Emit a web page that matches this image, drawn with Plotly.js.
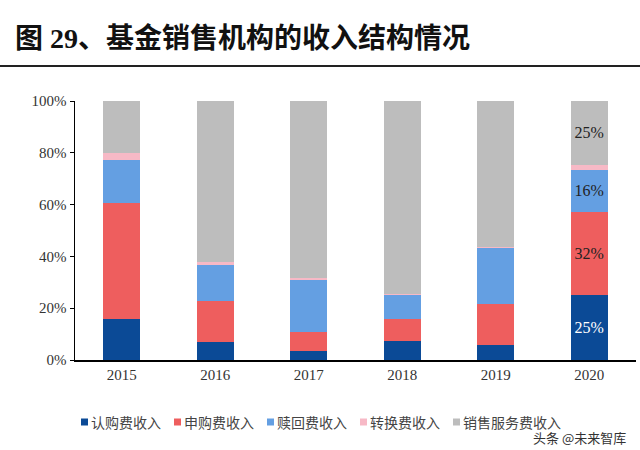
<!DOCTYPE html>
<html>
<head>
<meta charset="utf-8">
<script src="https://cdn.plot.ly/plotly-3.0.1.min.js"></script>
<style>html,body{margin:0;padding:0;background:#fff;}#chart{width:640px;height:450px;}</style>
</head>
<body>
<div id="chart"></div>
<script>
const years = ['2015', '2016', '2017', '2018', '2019', '2020'];
const seriesNames = ['认购费收入', '申购费收入', '赎回费收入', '转换费收入', '销售服务费收入'];
const subscription = [15.9, 6.8, 3.3, 7.2, 5.9, 25.2];
const purchase     = [44.9, 15.9, 7.4, 8.7, 15.8, 32.1];
const redemption   = [16.6, 13.9, 20.1, 9.1, 21.6, 16.2];
const conversion   = [2.6, 1.1, 0.8, 0.4, 0.5, 1.9];
const service      = [20.0, 62.3, 68.4, 74.6, 56.2, 24.6];
const seriesColors = ['#0B4A96', '#EE5E5E', '#649FE2', '#F7B9C6', '#BDBDBD'];
const labelColors  = ['#ffffff', '#222222', '#222222', '#222222', '#222222'];
const showLabels   = [true, true, true, false, true];
const labelYear = '2020';
const watermark = '头条 @未来智库';

const allValues = [subscription, purchase, redemption, conversion, service];
const serif = '"Liberation Serif", "Times New Roman", serif';
const cjk = '"Noto Sans CJK SC", sans-serif';

const traces = allValues.map((vals, k) => ({
  type: 'bar',
  name: seriesNames[k],
  x: years,
  y: vals,
  marker: {color: seriesColors[k], line: {width: 0}},
  text: vals.map((v, i) => (showLabels[k] && years[i] === labelYear) ? Math.round(v) + '%' : ''),
  textposition: 'inside',
  insidetextanchor: 'middle',
  textangle: 0,
  constraintext: 'none',
  textfont: {family: serif, size: 16, color: labelColors[k]},
  hoverinfo: 'skip',
  showlegend: false
}));

const M = {l: 75, r: 4, t: 101, b: 90};
const W = 640, H = 450;
const pw = W - M.l - M.r, ph = H - M.t - M.b;
const px2x = p => (p - M.l) / pw;
const px2y = p => (H - M.b - p) / ph;

// custom compact legend (symbol + label), built from series names and colours
const legY = 422, legX0 = 81, legStep = 93, sq = 7;
const legendShapes = seriesNames.map((n, k) => ({
  type: 'rect', xref: 'paper', yref: 'paper',
  x0: px2x(legX0 + k * legStep), x1: px2x(legX0 + k * legStep + sq),
  y0: px2y(legY + sq / 2), y1: px2y(legY - sq / 2),
  fillcolor: seriesColors[k], line: {width: 0}
}));
const legendTexts = seriesNames.map((n, k) => ({
  text: n, xref: 'paper', yref: 'paper',
  x: px2x(legX0 + k * legStep + sq + 1), xanchor: 'left',
  y: px2y(legY), yanchor: 'middle',
  showarrow: false,
  font: {family: cjk, size: 14, color: '#444'}
}));

const layout = {
  width: W, height: H,
  margin: M,
  paper_bgcolor: '#ffffff',
  plot_bgcolor: '#ffffff',
  barmode: 'stack',
  bargap: 0.6,
  showlegend: false,
  title: {
    text: '图 29、基金销售机构的收入结构情况',
    x: 15 / W, xref: 'container', xanchor: 'left',
    y: 1 - 38 / H, yref: 'container', yanchor: 'middle',
    font: {family: serif + ', ' + cjk, size: 28, color: '#111', weight: 'bold'}
  },
  xaxis: {
    type: 'category',
    showline: true, linecolor: '#000', linewidth: 1.5,
    ticks: '', showgrid: false, zeroline: false,
    tickfont: {family: serif, size: 15, color: '#333'}
  },
  yaxis: {
    range: [0, 100],
    tickvals: [0, 20, 40, 60, 80, 100],
    ticktext: ['0%', '20%', '40%', '60%', '80%', '100%'],
    showline: true, linecolor: '#000', linewidth: 1.5,
    ticks: 'outside', ticklen: 4, tickcolor: '#000',
    showgrid: false, zeroline: false,
    tickfont: {family: serif, size: 15, color: '#333'}
  },
  shapes: [{
    type: 'line', xref: 'paper', yref: 'paper',
    x0: px2x(0), x1: px2x(W), y0: px2y(66), y1: px2y(66),
    line: {color: '#222', width: 2}
  }].concat(legendShapes),
  annotations: legendTexts.concat([{
    text: watermark, xref: 'paper', yref: 'paper',
    x: px2x(628), xanchor: 'right',
    y: px2y(437), yanchor: 'middle',
    showarrow: false,
    font: {family: cjk, size: 13, color: '#333'}
  }])
};

Plotly.newPlot('chart', traces, layout, {displayModeBar: false, staticPlot: true});
</script>
</body>
</html>
